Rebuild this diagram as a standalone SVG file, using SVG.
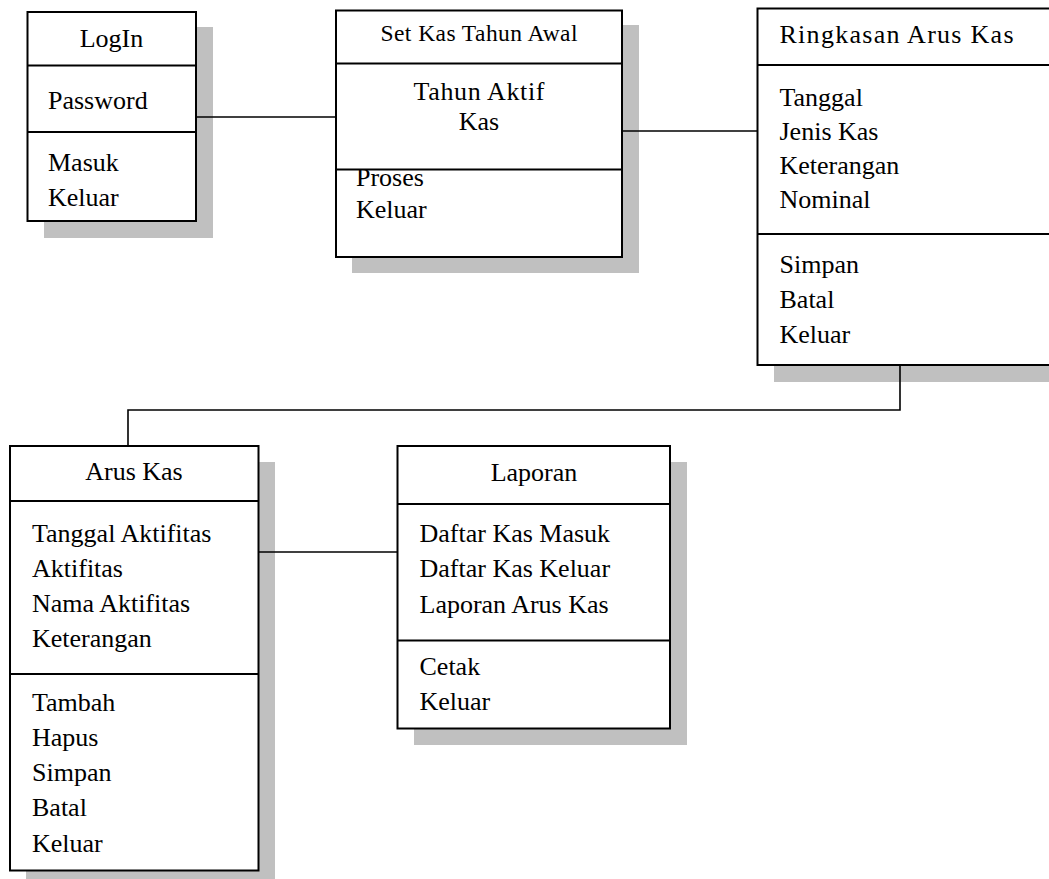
<svg xmlns="http://www.w3.org/2000/svg" width="1049" height="879" viewBox="0 0 1049 879">
<style>
.sh{fill:#c0c0c0;stroke:none}
.bx{fill:#ffffff;stroke:#000000;stroke-width:2}
.dv{stroke:#000000;stroke-width:2;fill:none}
.cn{stroke:#000000;stroke-width:1.6;fill:none}
text{font-family:"Liberation Serif","Times New Roman",serif;font-size:26px;fill:#000000}
.t{text-anchor:middle}
.s{font-size:23.5px}
</style>
<rect width="1049" height="879" fill="#ffffff"/>
<g id="login">
<rect class="sh" x="44" y="27" width="169" height="211"/>
<rect class="bx" x="27.5" y="12" width="168.5" height="209"/>
<line class="dv" x1="27.5" y1="65.5" x2="196" y2="65.5"/>
<line class="dv" x1="27.5" y1="132" x2="196" y2="132"/>
<text class="t" x="111.5" y="47">LogIn</text>
<text x="48" y="108.5">Password</text>
<text x="48" y="171">Masuk</text>
<text x="48" y="205.5">Keluar</text>
</g>
<g id="set-kas-tahun-awal">
<rect class="sh" x="352" y="25" width="287" height="248"/>
<rect class="bx" x="336" y="10.5" width="286" height="246.5"/>
<line class="dv" x1="336" y1="63.5" x2="622" y2="63.5"/>
<line class="dv" x1="336" y1="169.5" x2="622" y2="169.5"/>
<text class="t s" x="479" y="41" textLength="197" lengthAdjust="spacing">Set Kas Tahun Awal</text>
<text class="t" x="479" y="100" textLength="131" lengthAdjust="spacing">Tahun Aktif</text>
<text class="t" x="479" y="130">Kas</text>
<text x="356" y="186">Proses</text>
<text x="356" y="218">Keluar</text>
</g>
<g id="ringkasan-arus-kas">
<rect class="sh" x="774" y="24" width="290" height="358"/>
<rect class="bx" x="757.5" y="8.5" width="300" height="356.5"/>
<line class="dv" x1="757.5" y1="65" x2="1060" y2="65"/>
<line class="dv" x1="757.5" y1="234" x2="1060" y2="234"/>
<text class="t" x="896.5" y="43" textLength="234" lengthAdjust="spacing">Ringkasan Arus Kas</text>
<text x="779.5" y="106">Tanggal</text>
<text x="779.5" y="140">Jenis Kas</text>
<text x="779.5" y="174">Keterangan</text>
<text x="779.5" y="208">Nominal</text>
<text x="779.5" y="273">Simpan</text>
<text x="779.5" y="308">Batal</text>
<text x="779.5" y="343">Keluar</text>
</g>
<g id="arus-kas">
<rect class="sh" x="26" y="462" width="249" height="420"/>
<rect class="bx" x="10" y="446" width="248.5" height="424.5"/>
<line class="dv" x1="10" y1="501" x2="258.5" y2="501"/>
<line class="dv" x1="10" y1="674" x2="258.5" y2="674"/>
<text class="t" x="134" y="480">Arus Kas</text>
<text x="32" y="541.5">Tanggal Aktifitas</text>
<text x="32" y="577">Aktifitas</text>
<text x="32" y="612">Nama Aktifitas</text>
<text x="32" y="647">Keterangan</text>
<text x="32" y="711">Tambah</text>
<text x="32" y="746">Hapus</text>
<text x="32" y="781">Simpan</text>
<text x="32" y="816">Batal</text>
<text x="32" y="851.5">Keluar</text>
</g>
<g id="laporan">
<rect class="sh" x="414" y="462" width="273" height="283"/>
<rect class="bx" x="397.5" y="446" width="272.5" height="282.5"/>
<line class="dv" x1="397.5" y1="504" x2="670" y2="504"/>
<line class="dv" x1="397.5" y1="640.5" x2="670" y2="640.5"/>
<text class="t" x="534" y="481">Laporan</text>
<text x="419.5" y="541.5">Daftar Kas Masuk</text>
<text x="419.5" y="577">Daftar Kas Keluar</text>
<text x="419.5" y="612.5">Laporan Arus Kas</text>
<text x="419.5" y="675">Cetak</text>
<text x="419.5" y="709.5">Keluar</text>
</g>
<g id="connectors">
<path class="cn" d="M196,117 H336"/>
<path class="cn" d="M622,131 H757.5"/>
<path class="cn" d="M900,365 V410 H128 V446"/>
<path class="cn" d="M258.5,552 H397.5"/>
</g>
</svg>
